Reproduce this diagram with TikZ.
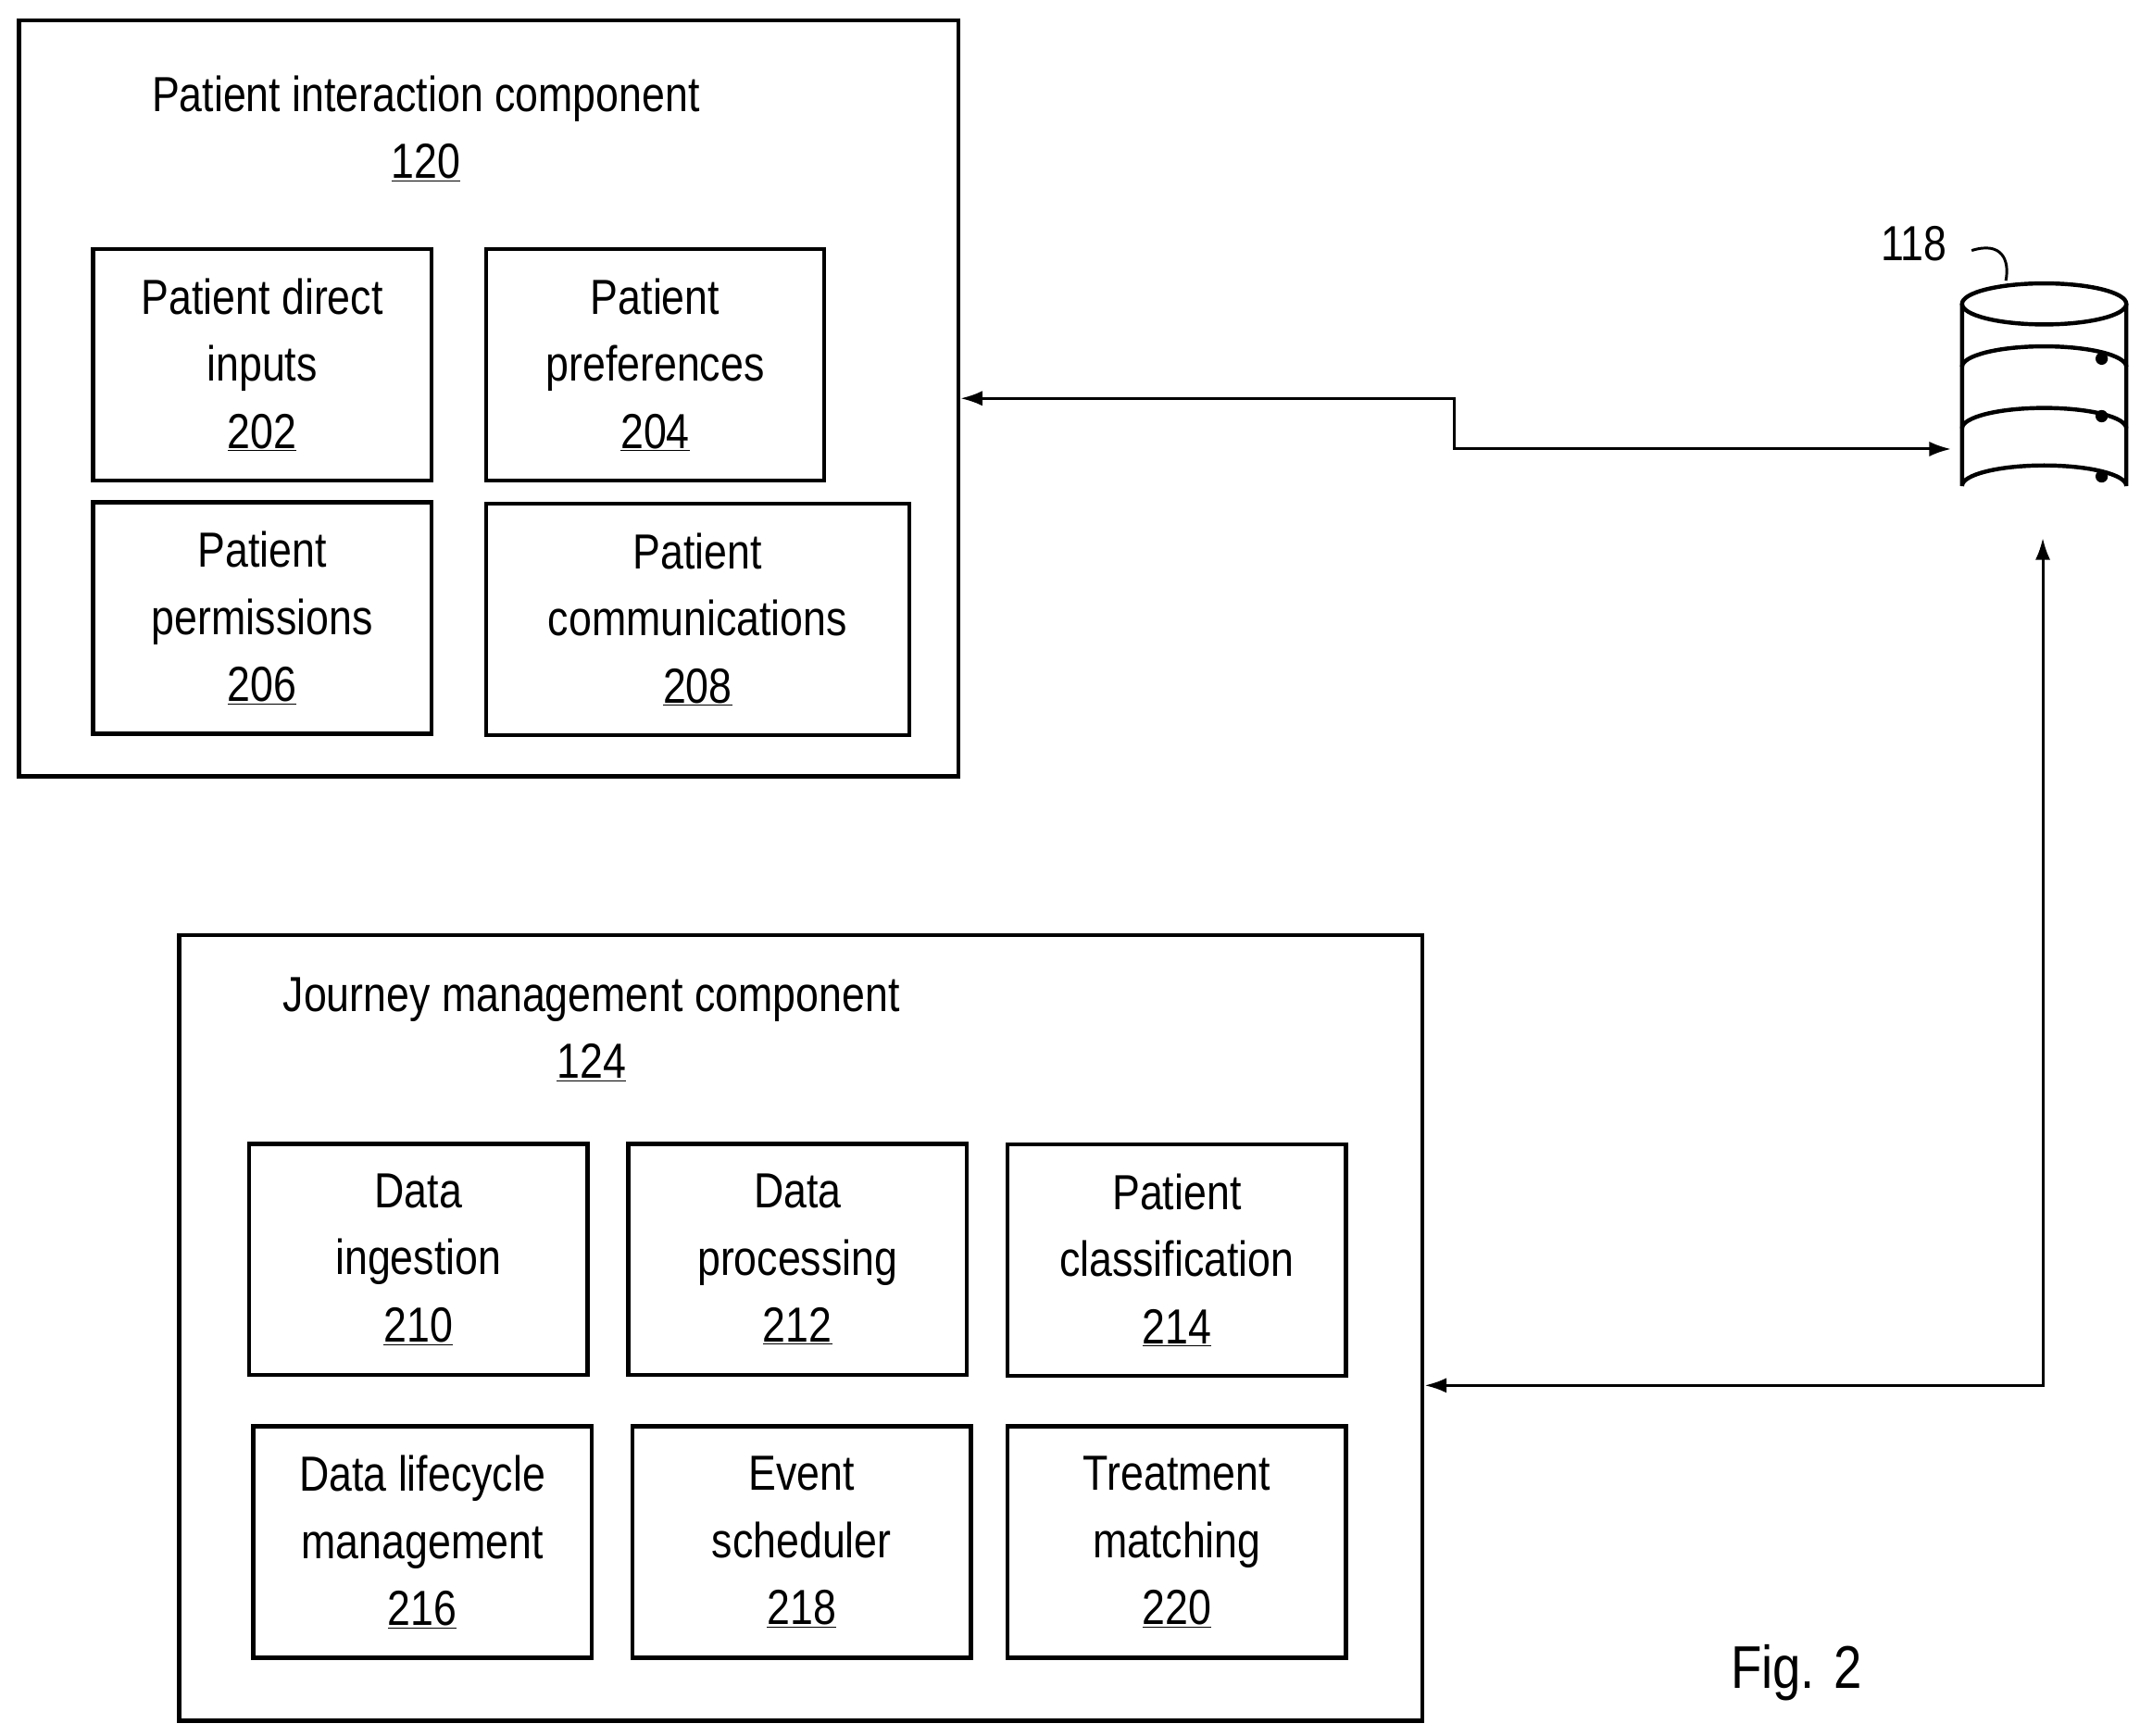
\documentclass[tikz,border=0pt]{standalone}
\usepackage{fontspec}
\setmainfont[FakeStretch=0.84]{Liberation Sans}
\usetikzlibrary{arrows.meta}
\begin{document}
\begin{tikzpicture}[x=1pt,y=-1pt,
  box/.style={draw,line width=3pt,inner sep=0pt},
  lbl/.style={font=\fontsize{36}{49}\selectfont,align=center},
  arr/.style={line width=2pt,{Latex[length=16pt,width=11pt]}-{Latex[length=16pt,width=11pt]}}]
\useasboundingbox (0,0) rectangle (1563,1268);
\node[box,minimum width=686pt,minimum height=552pt] (pic) at (357,291) {};
\node[lbl] (pict) at (311,94) {Patient interaction component\\\underline{120}};
\foreach \n/\x/\y/\w/\t in {a/191.5/266.5/247/Patient direct\\inputs\\\underline{202},
 b/478.5/266.5/247/Patient\\preferences\\\underline{204},
 c/191.5/451.5/247/Patient\\permissions\\\underline{206},
 d/509.5/452.5/309/Patient\\communications\\\underline{208}}
 {\node[box,minimum width=\w pt,minimum height=169pt] (\n) at (\x,\y) {};
  \node[lbl] at (\x,\y) {\t};}
\node[box,minimum width=908pt,minimum height=574pt] (jm) at (585,970) {};
\node[lbl] (jmt) at (432,752) {Journey management component\\\underline{124}};
\foreach \n/\x/\y/\t in {e/305.5/920/Data\\ingestion\\\underline{210},
 f/582.5/920/Data\\processing\\\underline{212},
 g/859.5/920.5/Patient\\classification\\\underline{214},
 h/308.5/1126.5/Data lifecycle\\management\\\underline{216},
 i/585.5/1126.5/Event\\scheduler\\\underline{218},
 j/859.5/1126.5/Treatment\\matching\\\underline{220}}
 {\node[box,minimum width=247pt,minimum height=169pt] (\n) at (\x,\y) {};
  \node[lbl] at (\x,\y) {\t};}
% database
\begin{scope}[line width=3pt]
\draw (1433,222) -- (1433,355) arc[start angle=180,end angle=360,x radius=60,y radius=15] -- (1553,222);
\draw (1493,222) ellipse [x radius=60,y radius=15];
\draw (1433,268) arc[start angle=180,end angle=360,x radius=60,y radius=15];
\draw (1433,313) arc[start angle=180,end angle=360,x radius=60,y radius=15];
\end{scope}
\foreach \y in {262,304,348} \fill (1535,\y) circle (4.5pt);
\coordinate (db1) at (1425,328);
\coordinate (db2) at (1492,393);
\node[lbl,anchor=center] (n118) at (1398,178) {118};
\draw[line width=2pt] (1440,183) .. controls (1462,176) and (1468,190) .. (1465,205);
\node[font=\fontsize{44}{50}\selectfont] (fig) at (1312,1222) {Fig. 2};
\draw[arr] (pic.east |- 0,291) -- (1062,291) -- (1062,328) -- (db1);
\draw[arr] (db2) -- (1492,1012) -- (jm.east |- 0,1012);
\end{tikzpicture}
\end{document}
